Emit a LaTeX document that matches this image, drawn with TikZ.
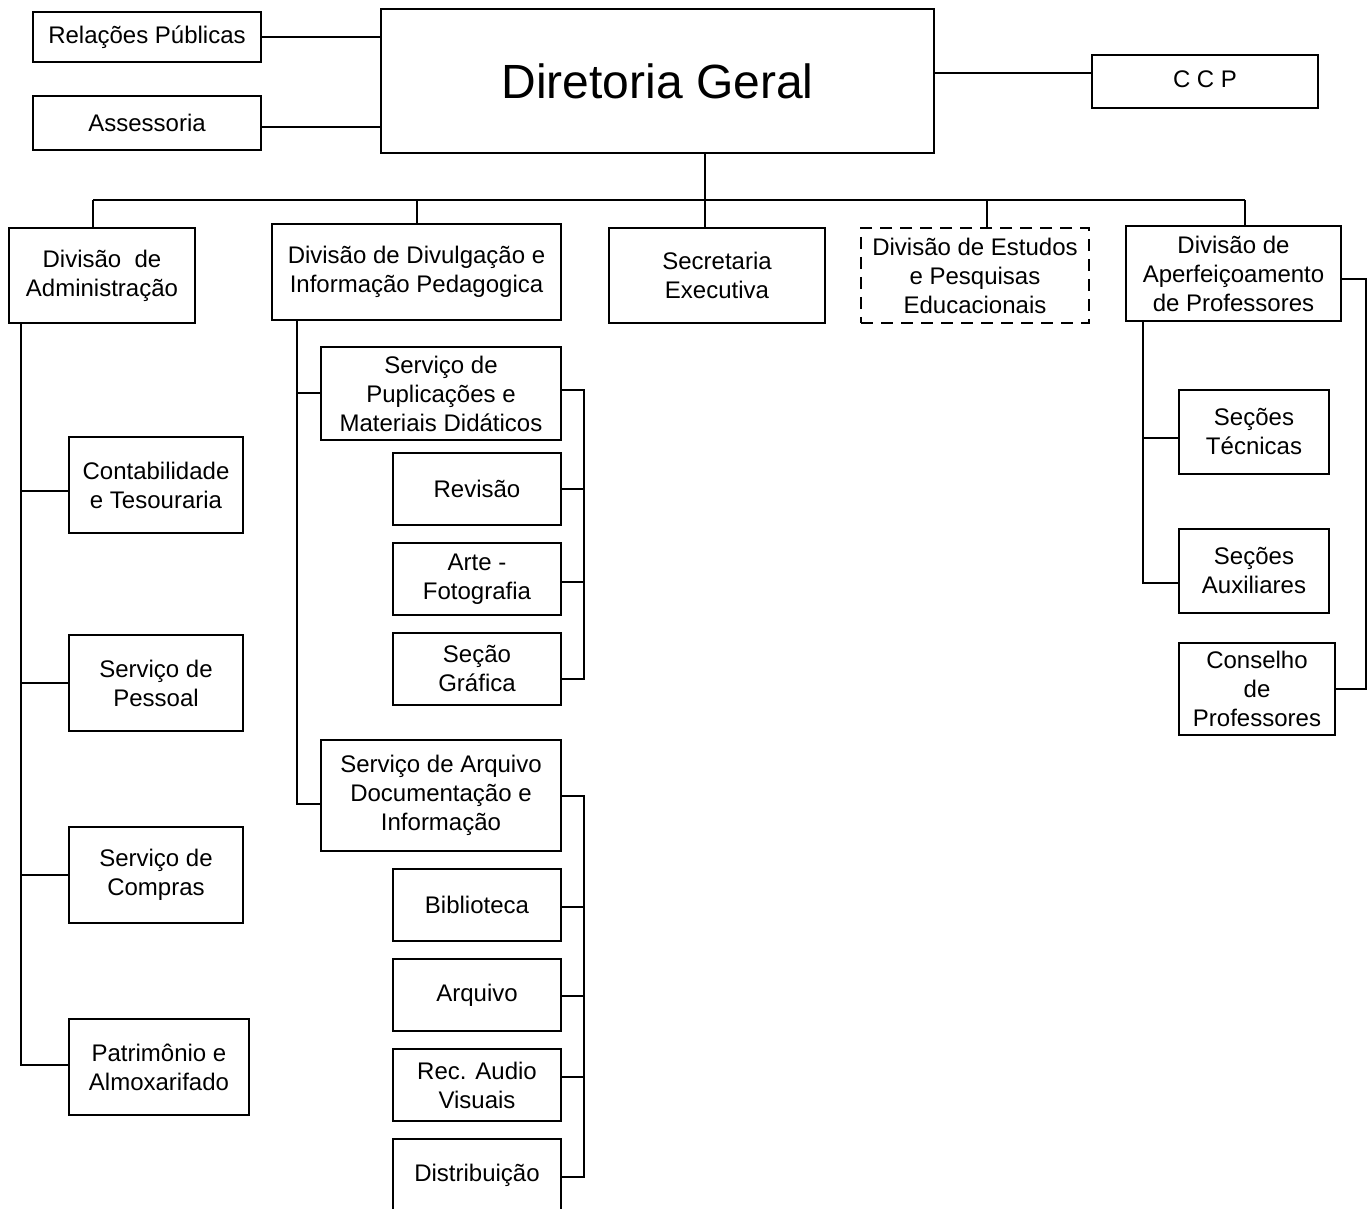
\documentclass[tikz,border=0pt]{standalone}
\usepackage{fontspec}
\setmainfont{Liberation Sans}
\begin{document}
\begin{tikzpicture}[x=0.5pt,y=-0.5pt,
  box/.style={draw, line width=1pt, align=center, inner sep=1pt, font=\fontsize{12}{14.5}\selectfont},
  dbox/.style={box, dash pattern=on 6pt off 4pt},
  conn/.style={line width=1pt}]
\clip (0,0) rectangle (1372,1209);
\fill[white] (0,0) rectangle (1372,1209);
% top level
\node[box, minimum width=114pt, minimum height=25pt] (rp) at (147,37) {Relações Públicas};
\node[box, minimum width=114pt, minimum height=27pt] (ass) at (147,123) {Assessoria};
\node[box, minimum width=276.5pt, minimum height=72pt, font=\fontsize{24}{28}\selectfont] (dg) at (657.5,81) {Diretoria Geral};
\node[box, minimum width=113pt, minimum height=26.5pt] (ccp) at (1205,81.5) {\raisebox{2pt}{C C P}};
% divisions
\node[box, minimum width=93pt, minimum height=47.5pt] (da) at (102,275.5) {Divisão\ \ de\\Administração};
\node[box, minimum width=144.5pt, minimum height=48pt] (dd) at (416.5,272) {Divisão de Divulgação e\\Informação Pedagogica};
\node[box, minimum width=108pt, minimum height=47.5pt] (se) at (717,275.5) {Secretaria\\Executiva};
\node[dbox, minimum width=114pt, minimum height=47.5pt] (de) at (975,275.5) {Divisão de Estudos\\e Pesquisas\\Educacionais};
\node[box, minimum width=107.5pt, minimum height=47.5pt] (dap) at (1233.5,273.5) {Divisão de\\Aperfeiçoamento\\de Professores};
% administracao
\node[box, minimum width=87pt, minimum height=48pt] (ct) at (156,485) {Contabilidade\\e Tesouraria};
\node[box, minimum width=87pt, minimum height=48pt] (sp) at (156,683) {Serviço de\\Pessoal};
\node[box, minimum width=87pt, minimum height=48pt] (sc) at (156,875) {Serviço de\\Compras};
\node[box, minimum width=90pt, minimum height=48pt] (pa) at (159,1067) {Patrimônio e\\Almoxarifado};
% divulgacao
\node[box, minimum width=120pt, minimum height=46.5pt] (pu) at (441,393.5) {Serviço de\\Puplicações e\\Materiais Didáticos};
\node[box, minimum width=84pt, minimum height=36pt] (rv) at (477,489) {Revisão};
\node[box, minimum width=84pt, minimum height=36pt] (ar) at (477,579) {Arte -\\Fotografia};
\node[box, minimum width=84pt, minimum height=36pt] (sg) at (477,669) {Seção\\Gráfica};
\node[box, minimum width=120pt, minimum height=55.5pt] (sa) at (441,795.5) {Serviço de Arquivo\\Documentação e\\Informação};
\node[box, minimum width=84pt, minimum height=36pt] (bi) at (477,905) {Biblioteca};
\node[box, minimum width=84pt, minimum height=36pt] (aq) at (477,995) {Arquivo};
\node[box, minimum width=84pt, minimum height=36pt] (ra) at (477,1085) {Rec. Audio\\Visuais};
\node[box, minimum width=84pt, minimum height=36pt] (di) at (477,1175) {Distribuição};
% aperfeicoamento
\node[box, minimum width=75pt, minimum height=42pt] (st) at (1254,432) {Seções\\Técnicas};
\node[box, minimum width=75pt, minimum height=42pt] (sx) at (1254,571) {Seções\\Auxiliares};
\node[box, minimum width=78pt, minimum height=46pt] (cp) at (1257,689) {Conselho\\de\\Professores};
% connectors: top
\draw[conn] (rp.east) -- (rp.east -| dg.west);
\draw[conn] ([yshift=-2pt]ass.east) -- ([yshift=-2pt]ass.east -| dg.west);
\draw[conn] ([yshift=4pt]dg.east) -- ([yshift=4pt]dg.east -| ccp.west);
% bus
\coordinate (b1) at (93,200);
\coordinate (b2) at (417,200);
\coordinate (b3) at (705,200);
\coordinate (b4) at (987,200);
\coordinate (b5) at (1245,200);
\draw[conn] (b1) -- (b5);
\draw[conn] (b3 |- dg.south) -- (b3 |- se.north);
\draw[conn] (b1) -- (b1 |- da.north);
\draw[conn] (b2) -- (b2 |- dd.north);
\draw[conn] (b4) -- (b4 |- de.north);
\draw[conn] (b5) -- (b5 |- dap.north);
% administracao spine
\coordinate (ta) at (21,323);
\draw[conn] (ta) |- ([yshift=1pt]pa.west);
\draw[conn] (ta |- ct.west) ++(0,6) -- ([yshift=-3pt]ct.west);
\draw[conn] (ta |- sp.west) -- (sp.west);
\draw[conn] (ta |- sc.west) -- (sc.west);
% divulgacao spine
\coordinate (td) at (297,320);
\draw[conn] (td) |- ([yshift=-4pt]sa.west);
\draw[conn] (td |- pu.west) -- (pu.west);
\coordinate (r1) at (584,390);
\draw[conn] ([yshift=1.75pt]pu.east) -- (r1) |- ([yshift=-5pt]sg.east);
\draw[conn] (r1 |- rv.east) -- (rv.east);
\draw[conn] ([yshift=-1.5pt]r1 |- ar.east) -- ([yshift=-1.5pt]ar.east);
\coordinate (r2) at (584,796);
\draw[conn] (sa.east |- r2) -- (r2) |- ([yshift=-1pt]di.east);
\draw[conn] ([yshift=-1pt]r2 |- bi.east) -- ([yshift=-1pt]bi.east);
\draw[conn] ([yshift=-0.5pt]r2 |- aq.east) -- ([yshift=-0.5pt]aq.east);
\draw[conn] ([yshift=4pt]r2 |- ra.east) -- ([yshift=4pt]ra.east);
% aperfeicoamento
\coordinate (tp) at (1143,321);
\draw[conn] (tp) |- ([yshift=-6pt]sx.west);
\draw[conn] ([yshift=-3pt]tp |- st.west) -- ([yshift=-3pt]st.west);
\draw[conn] ([yshift=-2.75pt]dap.east) -- ++(24,0) |- (cp.east);
\end{tikzpicture}
\end{document}
